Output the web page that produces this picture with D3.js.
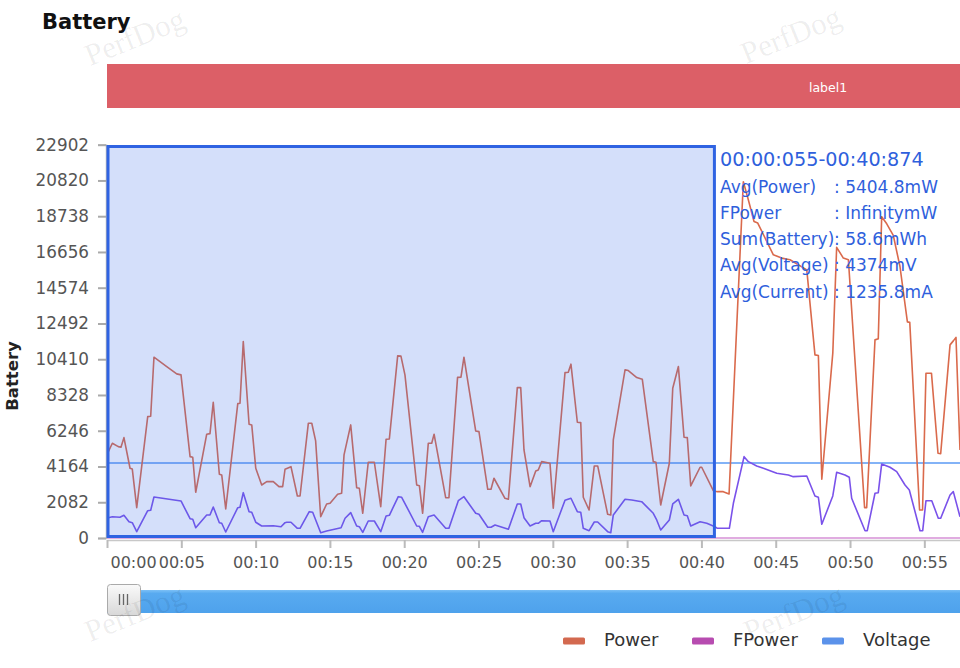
<!DOCTYPE html>
<html>
<head>
<meta charset="utf-8">
<script src="https://cdn.jsdelivr.net/npm/d3@7/dist/d3.min.js"></script>
<style>
html,body{margin:0;padding:0;background:#fff;}
svg{display:block;font-family:"DejaVu Sans",sans-serif;}
</style>
</head>
<body>
<svg id="chart" width="960" height="668"></svg>
<script>
// ---------------- data ----------------
const chartTitle = "Battery";
const yTickValues = [0, 2082, 4164, 6246, 8328, 10410, 12492, 14574, 16656, 18738, 20820, 22902];
const xTickSeconds = [0, 5, 10, 15, 20, 25, 30, 35, 40, 45, 50, 55];
const xTickLabels = ["00:00","00:05","00:10","00:15","00:20","00:25","00:30","00:35","00:40","00:45","00:50","00:55"];
const seriesNames = ["Power", "FPower", "Voltage"];

const powerTime = [0.09,0.36,0.76,0.94,1.14,1.55,1.70,2.00,2.74,2.94,3.16,4.02,4.69,4.98,5.59,5.77,5.97,6.71,6.93,7.15,7.56,7.72,7.99,8.80,8.95,9.17,9.56,9.74,10.01,10.41,10.75,11.19,11.57,11.82,11.98,12.38,12.81,12.99,13.55,13.78,14.04,14.38,14.78,15.01,15.52,15.79,15.95,16.40,16.80,16.98,17.21,17.58,17.99,18.42,18.78,19.00,19.56,19.78,20.05,20.84,21.02,21.24,21.62,21.85,22.01,22.79,23.01,23.59,23.82,24.02,24.81,25.03,25.62,25.84,26.04,26.78,27.01,27.61,27.84,28.06,28.47,28.85,29.02,29.25,29.81,30.03,30.82,31.04,31.22,31.65,31.88,32.05,32.44,32.79,33.02,33.69,33.90,34.07,34.86,35.08,35.65,36.02,36.76,36.94,37.26,37.84,38.07,38.45,38.83,39.05,39.28,39.91,40.02,40.80,41.07,41.47,41.86,42.82,43.12,43.54,43.79,44.84,45.40,45.96,47.09,47.64,47.87,48.10,48.84,49.10,49.55,49.89,50.98,51.12,51.68,51.90,52.13,52.47,52.91,53.36,53.86,54.02,54.68,54.88,55.11,55.48,55.92,56.10,56.73,56.95,57.13,57.40];
const powerValues = [5029,5518,5320,5285,5845,4061,4021,1766,7068,7092,10529,9982,9556,9498,4737,4702,2663,6043,6078,7907,3712,3671,1690,7826,7849,11438,6625,6585,4061,3088,3281,3281,2989,2989,4003,4155,2447,2447,6684,6684,5652,1241,1981,2022,2546,2605,4836,6585,2931,2896,1439,4411,4411,1824,5751,5769,10605,10588,9498,3088,3048,1439,5518,5518,6043,2348,2348,9352,9364,10529,6235,6194,2838,2838,3479,2313,2255,8758,8758,5128,2989,3904,3962,4446,4353,1731,9632,9655,10121,6742,6719,2372,1632,4195,4195,1381,1340,5710,9789,9749,9341,9247,4446,4411,1923,4353,8723,9982,5868,5845,3030,4120,4120,2756,2698,2698,2564,20744,19812,18431,18338,16490,16298,16199,15616,10663,10623,3420,10762,16927,16298,16199,1766,1766,11537,11596,18705,18297,17627,15809,12586,12557,1632,1632,9597,9597,4935,4912,11246,11479,11683,5128];

const currentTime = [0.09,0.36,0.87,1.14,1.48,1.70,2.00,2.74,2.94,3.16,4.98,5.59,5.77,5.97,6.71,6.93,7.15,7.56,7.72,7.99,8.80,8.95,9.17,9.56,9.74,10.01,10.41,11.19,11.71,11.98,12.09,12.38,12.81,12.99,13.61,13.84,14.38,14.78,15.75,16.02,16.40,16.80,16.98,17.21,17.58,17.99,18.42,18.78,19.00,19.60,19.83,20.84,21.02,21.24,21.62,22.01,22.79,23.01,23.64,24.02,24.81,25.03,25.62,25.84,26.11,27.01,27.61,27.84,28.06,28.47,28.85,29.02,29.25,29.81,30.03,30.82,31.22,31.65,31.88,32.05,32.44,32.79,33.02,33.69,33.90,34.07,34.86,35.31,35.98,36.76,36.99,37.26,37.84,38.07,38.45,38.83,39.05,39.28,39.91,40.36,40.91,41.07,41.88,42.15,42.87,43.16,43.72,44.17,45.07,45.85,46.18,47.09,47.64,47.87,48.10,48.84,49.10,49.66,49.95,50.11,51.01,51.16,51.68,51.90,52.13,52.69,53.14,53.70,53.99,54.71,54.89,55.11,55.50,55.94,56.10,56.73,56.95,57.40];
const currentValues = [1183,1241,1206,1323,950,892,367,1591,1614,2389,2156,1125,1090,600,1340,1340,1806,892,857,350,1766,1789,2640,1533,1498,915,699,717,653,892,915,915,565,565,1533,1498,309,408,600,1148,1474,699,658,332,991,991,367,1282,1323,2407,2372,699,682,332,1241,1340,565,565,2173,2407,1439,1381,623,623,758,507,1981,1981,1183,699,857,857,1008,991,367,2197,2313,1533,1498,565,425,932,932,367,309,1340,2255,2214,2115,1439,1049,466,1049,1981,2255,1340,1299,699,950,857,658,565,565,2022,4737,4446,4195,4061,3770,3671,3572,3613,2447,2372,798,2447,3828,3671,3537,2313,425,425,2605,2640,4312,4120,3863,3088,2797,425,425,2173,2173,1148,1148,2506,2698,1241];

const voltageTime = [0, 57.4];
const voltageValues = [4374, 4374];
const fpowerTime = [0, 57.4];
const fpowerValues = [0, 0];

const selStart = 0.055, selEnd = 40.874;
const tipHeader = "00:00:055-00:40:874";
const tipLabels = ["Avg(Power)", "FPower", "Sum(Battery)", "Avg(Voltage)", "Avg(Current)"];
const tipValues = ["5404.8mW", "InfinitymW", "58.6mWh", "4374mV", "1235.8mA"];
const markLabel = "label1";

// ---------------- drawing ----------------
const svg = d3.select("#chart");
const x = d3.scaleLinear().domain([0, 57.4]).range([107, 960]);
const y = d3.scaleLinear().domain([0, 22902]).range([538, 144.7]);

// title
svg.append("text").attr("x", 42).attr("y", 29)
  .style("font-weight", "bold").style("font-size", "21px").style("fill", "#111")
  .text(chartTitle);

// mark label bar
svg.append("rect").attr("x", 107).attr("y", 64).attr("width", 853).attr("height", 44).attr("fill", "#dc5f67");
svg.append("text").attr("x", 828).attr("y", 88).attr("text-anchor", "middle").attr("dominant-baseline", "middle")
  .style("font-size", "12.5px").style("fill", "#fff").text(markLabel);

// y axis
const yAxis = svg.append("g").attr("transform", "translate(106,0)")
  .call(d3.axisLeft(y).tickValues(yTickValues).tickFormat(d3.format("d")).tickSize(8).tickPadding(9));
yAxis.select(".domain").attr("stroke", "#bbb").attr("stroke-width", 1.5);
yAxis.selectAll(".tick line").attr("stroke", "#aaa").attr("stroke-width", 2);
yAxis.selectAll(".tick text").style("font-size", "16.8px").style("fill", "#555").style("font-family", "'DejaVu Sans',sans-serif");

svg.append("text").attr("transform", "translate(18,376) rotate(-90)").attr("text-anchor", "middle")
  .style("font-weight", "bold").style("font-size", "16.5px").style("fill", "#222").text(chartTitle);

// x axis
const xAxis = svg.append("g").attr("transform", "translate(0,540)")
  .call(d3.axisBottom(x).tickValues(xTickSeconds).tickFormat((d, i) => xTickLabels[i]).tickSize(8).tickPadding(9).tickSizeOuter(0));
xAxis.select(".domain").attr("stroke", "#c8c8c8").attr("stroke-width", 1.5);
xAxis.selectAll(".tick line").attr("stroke", "#bbb").attr("stroke-width", 2);
xAxis.selectAll(".tick text").style("font-size", "16px").style("fill", "#555").style("font-family", "'DejaVu Sans',sans-serif");
xAxis.selectAll(".tick text").filter((d, i) => i === 0).attr("text-anchor", "start").attr("dx", "3px");

// lines
const line = (ts, vs) => d3.line().x((d, i) => x(ts[i])).y(d => y(d))(vs);
svg.append("path").attr("d", line(fpowerTime, fpowerValues)).attr("fill", "none").attr("stroke", "#d690d6").attr("stroke-width", 1.5);
svg.append("path").attr("d", line(voltageTime, voltageValues)).attr("fill", "none").attr("stroke", "#5a9af5").attr("stroke-width", 1.5);
svg.append("path").attr("d", line(currentTime, currentValues)).attr("fill", "none").attr("stroke", "#7a52ea").attr("stroke-width", 1.6).attr("stroke-linejoin", "round");
svg.append("path").attr("d", line(powerTime, powerValues)).attr("fill", "none").attr("stroke", "#da6a4c").attr("stroke-width", 1.6).attr("stroke-linejoin", "round");

// selection overlay
svg.append("rect").attr("x", x(0) + 1).attr("y", 146.5).attr("width", x(selEnd) - x(0) - 1).attr("height", 390)
  .attr("fill", "rgba(60,110,230,0.22)").attr("stroke", "#2f63e2").attr("stroke-width", 3);

// tooltip text
svg.append("text").attr("x", 720).attr("y", 160).attr("dominant-baseline", "middle")
  .style("font-size", "19.2px").style("fill", "#2f5fdc").text(tipHeader);
const tipY = [188, 214, 240, 266, 293];
svg.selectAll("text.tl").data(tipLabels).join("text").attr("class", "tl")
  .attr("x", 720).attr("y", (d, i) => tipY[i]).attr("dominant-baseline", "middle")
  .style("font-size", "17px").style("fill", "#2f5fdc").text(d => d);
svg.selectAll("text.tv").data(tipValues).join("text").attr("class", "tv")
  .attr("x", 834).attr("y", (d, i) => tipY[i]).attr("dominant-baseline", "middle")
  .style("font-size", "17px").style("fill", "#2f5fdc").text(d => ": " + d);

// slider
const defs = svg.append("defs");
const g1 = defs.append("linearGradient").attr("id", "bar").attr("x1", 0).attr("x2", 0).attr("y1", 0).attr("y2", 1);
g1.append("stop").attr("offset", 0).attr("stop-color", "#7cc0f6");
g1.append("stop").attr("offset", 0.15).attr("stop-color", "#58aaf0");
g1.append("stop").attr("offset", 1).attr("stop-color", "#4ea2ec");
svg.append("rect").attr("x", 107).attr("y", 590).attr("width", 853).attr("height", 23).attr("fill", "url(#bar)");
const g2 = defs.append("linearGradient").attr("id", "hd").attr("x1", 0).attr("x2", 0).attr("y1", 0).attr("y2", 1);
g2.append("stop").attr("offset", 0).attr("stop-color", "#fafafa");
g2.append("stop").attr("offset", 1).attr("stop-color", "#d8d8d8");
svg.append("rect").attr("x", 107.5).attr("y", 584.5).attr("width", 33).attr("height", 31).attr("rx", 3)
  .attr("fill", "url(#hd)").attr("stroke", "#aaa");
[119.5, 123.5, 127.5].forEach(px => svg.append("line").attr("x1", px).attr("x2", px).attr("y1", 594).attr("y2", 605).attr("stroke", "#666").attr("stroke-width", 1.3));

// legend
const legColors = ["#d3694f", "#b74cb0", "#5b92ea"];
const legX = [563, 692, 822];
const leg = svg.selectAll("g.leg").data(seriesNames).join("g").attr("class", "leg")
  .attr("transform", (d, i) => `translate(${legX[i]},641)`);
leg.append("rect").attr("x", 0).attr("y", -3.5).attr("width", 22).attr("height", 7).attr("rx", 1.5).attr("fill", (d, i) => legColors[i]);
leg.append("text").attr("x", 41).attr("y", 0).attr("dominant-baseline", "middle")
  .style("font-size", "18px").style("fill", "#333").text(d => d);

// watermarks (on top)
const wm = [[136, 40], [792, 38], [136, 616], [795, 616]];
svg.selectAll("text.wm").data(wm).join("text")
  .attr("class", "wm")
  .attr("transform", d => `translate(${d[0]},${d[1]}) rotate(-22)`)
  .attr("text-anchor", "middle").attr("dominant-baseline", "middle")
  .style("font-family", "'Liberation Serif',serif").style("font-size", "31px")
  .style("fill", "rgba(0,0,0,0.07)")
  .text("PerfDog");
</script>
</body>
</html>
